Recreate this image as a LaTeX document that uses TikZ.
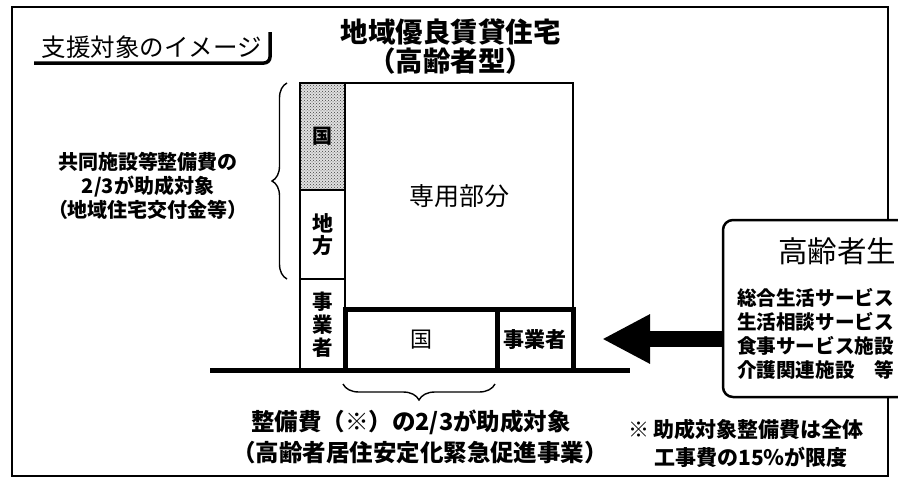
\documentclass[tikz,border=0pt]{standalone}
\usepackage{fontspec}
\setmainfont{Noto Sans CJK JP}
\usetikzlibrary{arrows.meta,decorations.pathreplacing,patterns}
\newcommand\myfs[2]{\fontsize{#1}{#2}\selectfont}
\begin{document}
\begin{tikzpicture}[x=1pt,y=-1pt,
  cell/.style={draw,line width=1.5pt,inner sep=0pt,outer sep=0pt,anchor=north west},
  thickcell/.style={draw,line width=5pt,inner sep=0pt,outer sep=0pt,anchor=north west},
  bracestyle/.style={decorate,line width=1.4pt},
  txt/.style={inner sep=0pt,outer sep=0pt},
  boxline/.style={txt,anchor=west,font=\myfs{19.6}{19.6}\bfseries}]
\useasboundingbox (0,0) rectangle (898,477);
\clip (0,0) rectangle (898,477);
% outer frame
\draw[line width=1.8pt] (12,7) rectangle (888,476);
% title box
\node[txt,minimum width=236pt,minimum height=31pt,font=\myfs{24.5}{24.5}] (imgtitle) at (152,47.5) {支援対象のイメージ};
\draw[line width=3.5pt,rounded corners=6pt] (imgtitle.south west) -- (imgtitle.south east) -- (imgtitle.north east);
% main title
\node[txt,align=center,font=\myfs{27.5}{29}\bfseries] (maintitle) at (450.5,46.5) {地域優良賃貸住宅\\（高齢者型）};
% left column cells
\node[cell,preaction={fill=black!12},pattern=crosshatch dots,pattern color=black!75,minimum width=45pt,minimum height=107pt,font=\myfs{20}{20}\bfseries] (kuniA) at (300,83) {国};
\node[cell,minimum width=45pt,minimum height=89pt,align=center,font=\myfs{21}{22}\bfseries] (chiho) at (300,190) {地\\方};
\node[cell,minimum width=45pt,minimum height=91pt,align=center,font=\myfs{20.5}{23}\bfseries] (jigyoA) at (300,279) {事\\業\\者};
% private part
\node[cell,line width=2.5pt,minimum width=228pt,minimum height=226pt,font=\myfs{25}{25}] (senyo) at (345,83) {専用部分};
% ground line
\coordinate (gl) at (210,370);
\coordinate (gr) at (630,370);
\draw[line width=5pt] (gl) -- (gr);
% thick cells
\node[thickcell,minimum width=152pt,minimum height=61pt,font=\myfs{22}{22}] (kuniB) at (345,309) {国};
\node[thickcell,minimum width=76pt,minimum height=61pt,font=\myfs{21}{21}\bfseries] (jigyoB) at (497,309) {事業者};
% left brace and text
\coordinate (bt) at (287,83);
\coordinate (bb) at (287,279);
\draw[bracestyle,decoration={brace,amplitude=15pt}] (bb) -- (bt);
\node[txt,align=center,font=\myfs{20}{24}\bfseries] (lefttext) at (148,186) {共同施設等整備費の\\2/3が助成対象\\（地域住宅交付金等）};
% bottom brace and text
\coordinate (bl) at (343,384);
\coordinate (br) at (495,384);
\draw[bracestyle,decoration={brace,amplitude=16pt}] (br) -- (bl);
\node[txt,font=\myfs{23.5}{23.5}\bfseries] (bot1) at (411,422) {整備費（※）の2/3が助成対象};
\node[txt,font=\myfs{23.5}{23.5}\bfseries] (bot2) at (420,453) {（高齢者居住安定化緊急促進事業）};
% footnote
\node[txt,font=\myfs{21}{21}\bfseries] (note1) at (746,429) {※ 助成対象整備費は全体};
\node[txt,font=\myfs{21}{21}\bfseries] (note2) at (751,457) {工事費の15％が限度};
% right box
\node[draw,line width=2.5pt,rounded corners=10pt,fill=white,anchor=north west,inner sep=0pt,outer sep=0pt,minimum width=200pt,minimum height=177pt] (box) at (723,220) {};
\node[txt,anchor=west,font=\myfs{29.5}{29.5}] (boxtitle) at (778,251) {高齢者生};
\node[boxline] (bl1) at (737,298) {総合生活サービス};
\node[boxline] (bl2) at (737,322) {生活相談サービス};
\node[boxline] (bl3) at (737,346) {食事サービス施設};
\node[boxline] (bl4) at (737,370) {介護関連施設　等};
% arrow
\coordinate (tip) at (602,339);
\draw[line width=16pt,-{Triangle[length=48pt,width=46pt]}] (box.west |- tip) -- (tip);
\end{tikzpicture}
\end{document}
